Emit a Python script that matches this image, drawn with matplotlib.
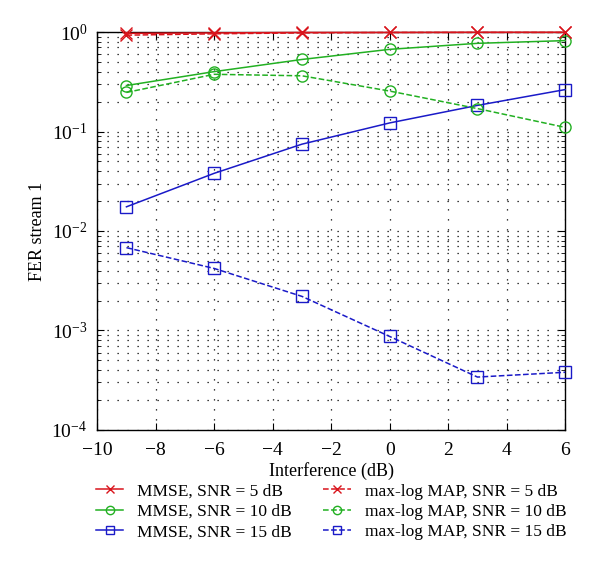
import numpy as np
import matplotlib
matplotlib.use('Agg')
import matplotlib.pyplot as plt

plt.rcParams['font.family'] = ['Liberation Serif', 'DejaVu Serif']
plt.rcParams['mathtext.fontset'] = 'stix'

# Interference levels (dB)
interference = [-9, -6, -3, 0, 3, 6]

# FER stream 1
mmse_5 = [0.97, 0.98, 0.99, 0.99, 0.995, 0.995]
mmse_10 = [0.29, 0.40, 0.53, 0.67, 0.77, 0.82]
mmse_15 = [0.0175, 0.038, 0.0746, 0.122, 0.183, 0.264]
maxlog_5 = [0.93, 0.96, 0.98, 0.99, 0.99, 0.99]
maxlog_10 = [0.247, 0.376, 0.363, 0.255, 0.17, 0.11]
maxlog_15 = [0.0068, 0.0042, 0.0022, 0.00087, 0.00034, 0.00038]

red = '#d9141c'
green = '#22b022'
blue = '#1a1ac8'

fig = plt.figure(figsize=(6.0, 5.62), dpi=100)
ax = fig.add_axes([0.162, 0.235, 0.78, 0.708])

kw = dict(markerfacecolor='none', markersize=8, linewidth=1.1,
          markeredgewidth=1.0, clip_on=False, zorder=3)
ax.plot(interference, mmse_5, '-', marker='x', color=red, label='MMSE, SNR = 5 dB', **kw)
ax.plot(interference, mmse_10, '-', marker='o', color=green, label='MMSE, SNR = 10 dB', **kw)
ax.plot(interference, mmse_15, '-', marker='s', color=blue, label='MMSE, SNR = 15 dB', **kw)
ax.plot(interference, maxlog_5, '--', marker='x', color=red, label='max-log MAP, SNR = 5 dB', **kw)
ax.plot(interference, maxlog_10, '--', marker='o', color=green, label='max-log MAP, SNR = 10 dB', **kw)
ax.plot(interference, maxlog_15, '--', marker='s', color=blue, label='max-log MAP, SNR = 15 dB', **kw)

ax.set_yscale('log')
ax.set_xlim(-10, 6)
ax.set_ylim(1e-4, 1)
ax.set_xticks(np.arange(-10, 7, 2))
ax.set_xticklabels(['\u2212%d' % -t if t < 0 else '%d' % t for t in range(-10, 7, 2)])

dots = (0, (1, 7))
ax.grid(True, which='major', axis='x', linestyle=dots, color='black', linewidth=0.9)
ax.grid(True, which='both', axis='y', linestyle=dots, color='black', linewidth=0.9)
ax.tick_params(which='both', direction='in', top=True, right=True, labelsize=14)
ax.tick_params(which='minor', length=3)
ax.tick_params(which='major', length=5)
ax.tick_params(axis='x', pad=9)
ax.tick_params(axis='y', pad=7)
for s in ax.spines.values():
    s.set_linewidth(1.0)

ax.set_xlabel('Interference (dB)', fontsize=13, labelpad=2)
ax.set_ylabel('FER stream 1', fontsize=13, labelpad=4)

ax.legend(loc='upper center', bbox_to_anchor=(0.5, -0.095), ncol=2, frameon=False,
          fontsize=12.5, handlelength=1.6, columnspacing=1.8, labelspacing=0.25,
          markerscale=0.75)

fig.savefig('out.png', dpi=100)
